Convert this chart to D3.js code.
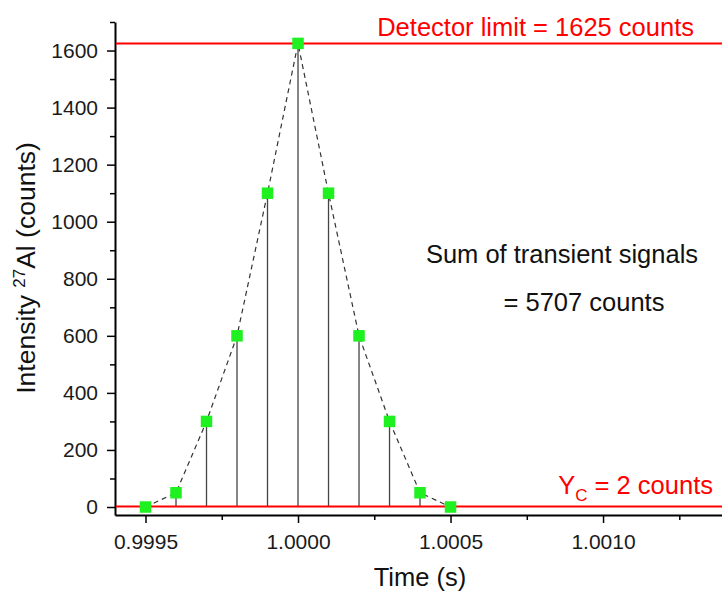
<!DOCTYPE html>
<html>
<head>
<meta charset="utf-8">
<script src="https://cdn.jsdelivr.net/npm/d3@7/dist/d3.min.js"></script>
<style>
  body { margin: 0; background: #fff; }
  svg text { font-family: "Liberation Sans", Arial, sans-serif; }
</style>
</head>
<body>
<div id="viz"></div>
<script>
// transient signal of one particle
var times = [0.9995, 0.9996, 0.9997, 0.9998, 0.9999, 1.0000, 1.0001, 1.0002, 1.0003, 1.0004, 1.0005];
var counts = [0, 50, 300, 600, 1100, 1625, 1100, 600, 300, 50, 0];
var xTicks = [0.9995, 1.0000, 1.0005, 1.0010];
var xMinor = [0.99975, 1.00025, 1.00075, 1.00125];
var yTicks = [0, 200, 400, 600, 800, 1000, 1200, 1400, 1600];
var yMinor = [100, 300, 500, 700, 900, 1100, 1300, 1500, 1700];
var detectorLimit = 1625,
    yc = 2;

var width = 722,
    height = 592,
    plot = { left: 115, right: 722, top: 22, bottom: 515 };

var svg = d3.select('#viz').append('svg')
  .attr('width', width)
  .attr('height', height);

var xScale = d3.scaleLinear()
  .domain([0.9994, 1.00139])
  .range([plot.left, plot.right]);

var yScale = d3.scaleLinear()
  .domain([-28, 1700])
  .range([plot.bottom, plot.top]);

// minor ticks first, then major axes on top
svg.append('g')
  .attr('transform', 'translate(0,' + plot.bottom + ')')
  .call(d3.axisBottom(xScale).tickValues(xMinor).tickSize(5).tickFormat(''))
  .call(g => g.select('.domain').remove())
  .selectAll('line').attr('stroke', '#000').attr('stroke-width', 1.5);

svg.append('g')
  .attr('transform', 'translate(' + plot.left + ',0)')
  .call(d3.axisLeft(yScale).tickValues(yMinor).tickSize(5).tickFormat(''))
  .call(g => g.select('.domain').remove())
  .selectAll('line').attr('stroke', '#000').attr('stroke-width', 1.5);

var xAxis = svg.append('g')
  .attr('transform', 'translate(0,' + plot.bottom + ')')
  .call(d3.axisBottom(xScale)
    .tickValues(xTicks)
    .tickSize(8)
    .tickSizeOuter(0)
    .tickPadding(11)
    .tickFormat(d3.format('.4f')));

var yAxis = svg.append('g')
  .attr('transform', 'translate(' + plot.left + ',0)')
  .call(d3.axisLeft(yScale)
    .tickValues(yTicks)
    .tickSize(8)
    .tickSizeOuter(0)
    .tickPadding(9)
    .tickFormat(d3.format('d')));

[xAxis, yAxis].forEach(function(ax) {
  ax.select('.domain').attr('stroke', '#000').attr('stroke-width', 2);
  ax.selectAll('.tick line').attr('stroke', '#000').attr('stroke-width', 1.5);
  ax.selectAll('.tick text')
    .attr('fill', '#1a1a1a')
    .style('font-size', '21px')
    .style('font-family', '"Liberation Sans", Arial, sans-serif');
});

// stems
svg.append('g').selectAll('line')
  .data(counts)
  .enter().append('line')
    .attr('x1', (d, i) => xScale(times[i]))
    .attr('x2', (d, i) => xScale(times[i]))
    .attr('y1', yScale(0))
    .attr('y2', d => yScale(d))
    .attr('stroke', '#444')
    .attr('stroke-width', 1.3);

// dashed connector
var line = d3.line()
  .x((d, i) => xScale(times[i]))
  .y(d => yScale(d));

svg.append('path')
  .datum(counts)
  .attr('d', line)
  .attr('fill', 'none')
  .attr('stroke', '#333')
  .attr('stroke-width', 1.2)
  .attr('stroke-dasharray', '5,4');

// limit lines
svg.append('line')
  .attr('x1', plot.left + 1).attr('x2', plot.right)
  .attr('y1', yScale(detectorLimit)).attr('y2', yScale(detectorLimit))
  .attr('stroke', '#f00')
  .attr('stroke-width', 2);

svg.append('line')
  .attr('x1', plot.left + 1).attr('x2', plot.right)
  .attr('y1', yScale(yc)).attr('y2', yScale(yc))
  .attr('stroke', '#f00')
  .attr('stroke-width', 2);

// markers
var m = 11.5;
svg.append('g').selectAll('rect')
  .data(counts)
  .enter().append('rect')
    .attr('x', (d, i) => xScale(times[i]) - m / 2)
    .attr('y', d => yScale(d) - m / 2)
    .attr('width', m)
    .attr('height', m)
    .attr('fill', '#1ff01f');

// labels
svg.append('text')
  .attr('x', 694).attr('y', 36)
  .attr('text-anchor', 'end')
  .attr('fill', '#f00')
  .style('font-size', '25.5px')
  .text('Detector limit = ' + detectorLimit + ' counts');

var ycText = svg.append('text')
  .attr('x', 713).attr('y', 494)
  .attr('text-anchor', 'end')
  .attr('fill', '#f00')
  .style('font-size', '25.5px');
ycText.append('tspan').text('Y');
ycText.append('tspan').attr('dy', 7).style('font-size', '17px').text('C');
ycText.append('tspan').attr('dy', -7).text(' = ' + yc + ' counts');

svg.append('text')
  .attr('x', 562).attr('y', 263)
  .attr('text-anchor', 'middle')
  .attr('fill', '#111')
  .style('font-size', '25.5px')
  .text('Sum of transient signals');

svg.append('text')
  .attr('x', 584).attr('y', 311)
  .attr('text-anchor', 'middle')
  .attr('fill', '#111')
  .style('font-size', '25.5px')
  .text('= 5707 counts');

// axis titles
svg.append('text')
  .attr('x', 420).attr('y', 586)
  .attr('text-anchor', 'middle')
  .attr('fill', '#111')
  .style('font-size', '25.5px')
  .text('Time (s)');

var yTitle = svg.append('text')
  .attr('transform', 'translate(35,268) rotate(-90)')
  .attr('text-anchor', 'middle')
  .attr('fill', '#111')
  .style('font-size', '26.5px');
yTitle.append('tspan').text('Intensity ');
yTitle.append('tspan').attr('dy', -10).style('font-size', '17px').text('27');
yTitle.append('tspan').attr('dy', 10).text('Al (counts)');
</script>
</body>
</html>
